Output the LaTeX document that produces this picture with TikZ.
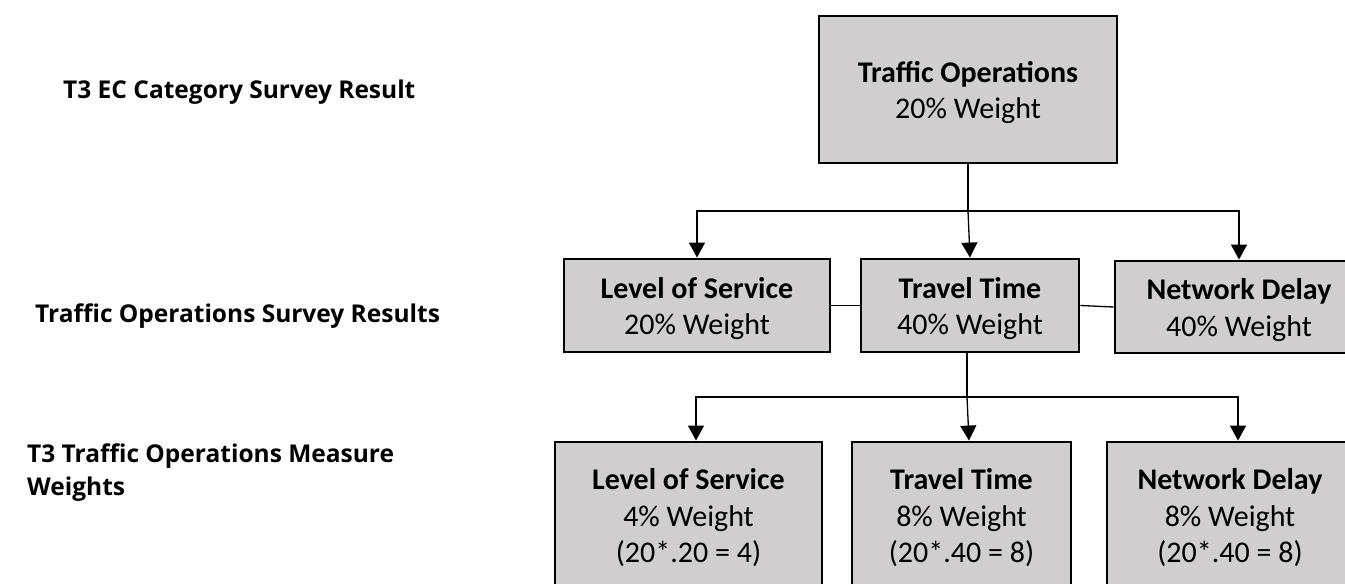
\documentclass[tikz,border=0pt]{standalone}
\usepackage{fontspec}
\setmainfont{Carlito}
\newfontfamily\labfont{Open Sans}
\usetikzlibrary{arrows.meta}
\definecolor{boxfill}{RGB}{208,206,206}
\newcommand\mystrut{\rule{0pt}{27pt}}
\begin{document}
\begin{tikzpicture}[x=1pt,y=-1pt,
  box/.style={draw=black, line width=2.9pt, fill=boxfill, align=center,
    font=\fontsize{30}{36.5}\selectfont, inner sep=0pt},
  conn/.style={line width=1.3pt, draw=black},
  arr/.style={conn, -{Triangle[length=15pt,width=16pt]}},
  lab/.style={font=\labfont\bfseries\fontsize{24.5}{33}\selectfont, anchor=base west,
    inner sep=0pt, align=left}]
\useasboundingbox (0,0) rectangle (1345,584);
\fill[white] (0,0) rectangle (1345,584);
\begin{scope}
\clip (0,0) rectangle (1345,584);
% left labels
\node[lab] (l1) at (63,98) {T3 EC Category Survey Result};
\node[lab] (l2) at (35,322) {Traffic Operations Survey Results};
\node[lab] (l3) at (27,495) {T3 Traffic Operations Measure\\Weights};
% top
\node[box, minimum width=298pt, minimum height=147pt] (top) at (968,89.5)
  {\mystrut\textbf{Traffic Operations}\\20\% Weight};
% row 2
\node[box, minimum width=266pt, minimum height=93pt] (los2) at (697,305.5)
  {\mystrut\textbf{Level of Service}\\20\% Weight};
\node[box, minimum width=218pt, minimum height=93pt] (tt2) at (970,305.5)
  {\mystrut\textbf{Travel Time}\\40\% Weight};
\node[box, minimum width=248pt, minimum height=92pt] (nd2) at (1239,307)
  {\mystrut\textbf{Network Delay}\\40\% Weight};
% row 3
\node[box, minimum width=267pt, minimum height=146pt] (los3) at (688.5,515)
  {\mystrut\textbf{Level of Service}\\4\% Weight\\(20*.20 = 4)};
\node[box, minimum width=219pt, minimum height=146pt] (tt3) at (961.5,515)
  {\mystrut\textbf{Travel Time}\\8\% Weight\\(20*.40 = 8)};
\node[box, minimum width=246pt, minimum height=146pt] (nd3) at (1230,515)
  {\mystrut\textbf{Network Delay}\\8\% Weight\\(20*.40 = 8)};
% junctions
\coordinate (j1) at (968,211);
\coordinate (j2) at (967,397);
% connectors top -> row 2
\draw[conn] (top.south) -- (j1);
\draw[arr] (j1) -| (los2.north);
\draw[arr] (j1) -- (tt2.north);
\draw[arr] (j1) -| (nd2.north);
% row 2 side links
\draw[conn] (los2.east) -- (tt2.west);
\draw[conn] (tt2.east) -- (nd2.west);
% travel time -> row 3
\draw[conn] (tt2.south -| j2) -- (j2);
\draw[arr] (j2) -| ([xshift=7.5pt]los3.north);
\draw[arr] (j2) -- ([xshift=7.5pt]tt3.north);
\draw[arr] (j2) -| ([xshift=8pt]nd3.north);
\end{scope}
\end{tikzpicture}
\end{document}
